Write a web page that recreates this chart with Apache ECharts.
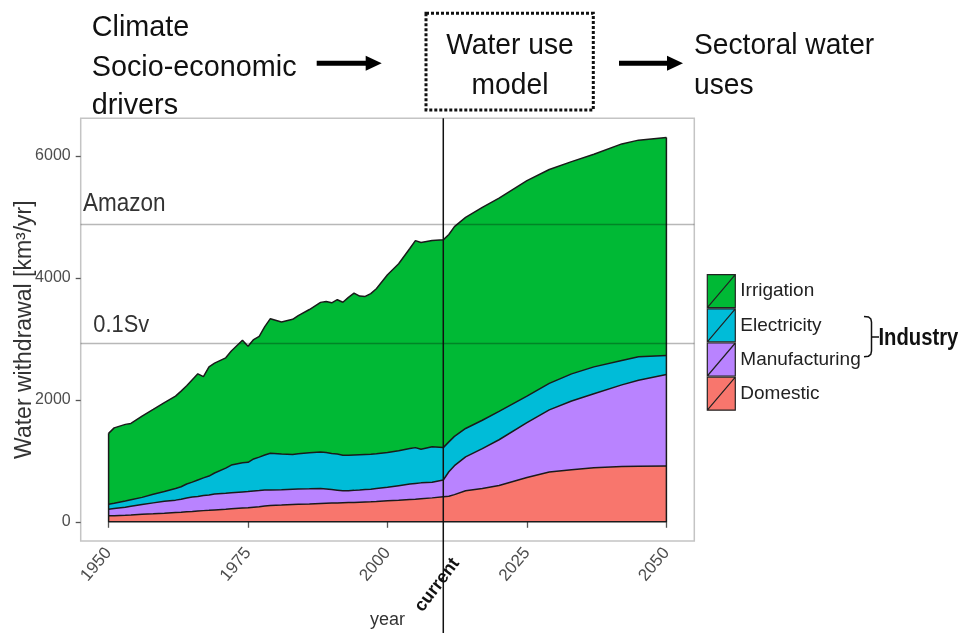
<!DOCTYPE html>
<html><head><meta charset="utf-8">
<script src="https://cdn.jsdelivr.net/npm/echarts@6/dist/echarts.min.js"></script>
<style>html,body{margin:0;padding:0;background:#fff}#c{width:964px;height:633px}</style>
</head><body><div id="c"></div>
<script>
// ---- data (km³/yr) ----
const years = [1950,1951,1953,1954,1956,1958,1960,1962,1963,1964,
  1965,1966,1967,1968,1969,1971,1972,1974,1975,1976,
  1977,1978,1979,1981,1983,1984,1986,1988,1989,1990,
  1991,1992,1993,1994,1995,1996,1997,1998,2000,2002,
  2004,2005,2006,2008,2010,2011,2012,2014,2017,2020,
  2025,2029,2033,2037,2042,2045,2050];
const irrigation = [1161,1235,1257,1253,1333,1392,1457,1515,1567,1610,
  1680,1741,1660,1790,1800,1808,1870,2007,1902,1957,
  1981,2105,2205,2165,2215,2265,2350,2453,2478,2470,
  2531,2508,2590,2655,2600,2590,2633,2705,2914,3065,
  3280,3394,3389,3380,3406,3400,3440,3460,3490,3495,
  3531,3505,3480,3485,3550,3553,3574];
const electricity = [82,87,100,105,115,140,160,190,205,230,
  245,270,290,310,345,412,452,478,480,525,
  548,575,602,585,571,578,590,599,597,592,
  592,584,580,580,578,575,573,570,570,573,
  582,588,551,580,531,490,480,465,465,465,
  436,435,445,440,400,382,311];
const manufacturing = [109,117,132,143,163,180,195,203,212,225,
  235,237,247,252,260,263,265,265,265,265,
  264,262,255,250,249,249,247,245,235,222,
  209,196,195,197,200,204,205,212,222,240,
  253,257,260,258,273,400,475,555,655,750,
  900,1020,1125,1215,1340,1412,1499];
const domestic = [98,101,108,112,122,130,140,152,158,165,
  170,178,183,188,195,205,213,225,230,240,
  248,258,268,275,285,288,293,300,303,306,
  309,312,315,318,322,326,329,333,343,352,
  365,371,378,392,412,420,445,510,545,595,
  725,815,855,885,905,910,916];
const stackOrder = ['Domestic','Manufacturing','Electricity','Irrigation']; // bottom -> top
const legendOrder = ['Irrigation','Electricity','Manufacturing','Domestic'];
const refNames = ['Amazon','0.1Sv'];
const refValues = [4880, 2930];
const currentYear = 2010;
const xTicks = [1950,1975,2000,2025,2050];
const yTicks = [0,2000,4000,6000];
const headerLeft = ['Climate','Socio-economic','drivers'];
const headerMid = ['Water use','model'];
const headerRight = ['Sectoral water','uses'];

// ---- styles ----
const colors = {Domestic:'#F8766D', Manufacturing:'#B983FF', Electricity:'#00BCD8', Irrigation:'#00B935'};
const FONT = 'Liberation Sans, Arial, sans-serif';
const values = {Domestic:domestic, Manufacturing:manufacturing, Electricity:electricity, Irrigation:irrigation};
const n = years.length;

// cumulative tops of each band (stacked area drawn as overlapping areas, top band first)
const cumulative = {};
let run = years.map(()=>0);
stackOrder.forEach(name => { run = run.map((v,i)=>v+values[name][i]); cumulative[name] = run.slice(); });

const series = stackOrder.slice().reverse().map((name,k) => ({
  name, type:'line', symbol:'none', smooth:false, z:2+k*0.01,
  data: years.map((y,i)=>[y, cumulative[name][i]]),
  lineStyle:{color:'#1a1a1a', width:1.5},
  areaStyle:{color:colors[name], opacity:1},
  itemStyle:{color:colors[name]},
  emphasis:{disabled:true}, silent:true
}));
const totalTop = cumulative['Irrigation'];
series.push({
  name:'outline', type:'line', symbol:'none', silent:true,
  data:[[years[0], totalTop[0]],[years[0],0],[years[n-1],0],[years[n-1], totalTop[n-1]]],
  lineStyle:{color:'#1a1a1a', width:1.5}, z:3
});
series.push({
  name:'refs', type:'line', data:[], silent:true, z:4,
  markLine:{symbol:'none', silent:true, label:{show:false},
    lineStyle:{color:'rgba(0,0,0,0.28)', width:1.3, type:'solid'},
    data: refValues.map(v=>({yAxis:v}))}
});

const iconPath = 'path://M0,0L28,0L28,33L0,33ZM0,33L28,0';
const option = {
  animation:false,
  backgroundColor:'#fff',
  grid:{left:80.7, top:118.3, right:269.7, bottom:92, show:true, borderColor:'#c4c4c4', borderWidth:1.5,
        backgroundColor:'#fff', containLabel:false, outerBoundsMode:'none'},
  xAxis:{type:'value', min:1945, max:2055,
    name:'year', nameLocation:'middle', nameGap:70, nameMoveOverlap:false,
    nameTextStyle:{fontFamily:FONT, fontSize:18, color:'#333'},
    axisLine:{show:false}, splitLine:{show:false},
    axisTick:{show:true, customValues:xTicks, length:6, lineStyle:{color:'#555', width:1.3}},
    axisLabel:{customValues:xTicks, rotate:50, fontSize:17, color:'#4d4d4d', fontFamily:FONT, margin:9,
      formatter:v=>String(v)}},
  yAxis:{type:'value', min:-315, max:6615,
    name:'Water withdrawal [km³/yr]', nameLocation:'middle', nameGap:45, nameMoveOverlap:false,
    nameTextStyle:{fontFamily:FONT, fontSize:23, color:'#333'},
    axisLine:{show:false}, splitLine:{show:false},
    axisTick:{show:true, customValues:yTicks, length:5, lineStyle:{color:'#555', width:1.3}},
    axisLabel:{customValues:yTicks, fontSize:16, color:'#4d4d4d', fontFamily:FONT, margin:10,
      formatter:v=>String(v)}},
  legend:{orient:'vertical', left:706.7, top:274, padding:0, itemGap:0, itemWidth:28, itemHeight:33,
    selectedMode:false,
    textStyle:{fontFamily:FONT, fontSize:19, color:'#222'},
    data: legendOrder.map(name=>({name, icon:iconPath,
      itemStyle:{color:colors[name], borderColor:'#222', borderWidth:1.2}}))},
  series
};

const chart = echarts.init(document.getElementById('c'), null, {renderer:'canvas'});
chart.setOption(option);

const px = (x,y) => chart.convertToPixel({gridIndex:0}, [x,y]);
const gridTop = px(1945, 6615)[1];
const gridLeft = px(1945, 0)[0];
const xCur = px(currentYear, 0)[0];

const g = [];
const txt = (text, x, y, size, opts={}) => g.push({type:'text', x, y, scaleX:opts.sx||1, z:100,
  rotation:opts.rot||0,
  style:{text, fontFamily:FONT, fontSize:size, fontWeight:opts.bold?'bold':'normal', fill:opts.color||'#111',
         align:opts.align||'left', verticalAlign:'middle'}});
// header
headerLeft.forEach((t,i)=>txt(t, 91.7, [28,67.4,105.7][i], 30, {sx:0.96}));
headerMid.forEach((t,i)=>txt(t, 510, [45.7,85.7][i], 30, {sx:0.94, align:'center'}));
headerRight.forEach((t,i)=>txt(t, 694, [45.7,85.7][i], 30, {sx:0.94}));
g.push({type:'rect', shape:{x:426, y:13.3, width:167.3, height:96.7}, z:100,
  style:{fill:'none', stroke:'#111', lineWidth:3, lineDash:[3,2]}});
[[316.7,381.7],[619,683]].forEach(([a,b])=>{
  g.push({type:'line', shape:{x1:a, y1:63.3, x2:b-14, y2:63.3}, z:100, style:{stroke:'#000', lineWidth:5}});
  g.push({type:'polygon', shape:{points:[[b-16,55.8],[b,63.3],[b-16,70.8]]}, z:100, style:{fill:'#000'}});
});
// reference labels
refNames.forEach((t,i)=>{
  const y = px(1945, refValues[i])[1];
  if (i===0) txt(t, gridLeft+2.3, y-20, 25, {sx:0.9, color:'#333'});
  else txt(t, gridLeft+12.6, y-17, 23, {sx:0.95, color:'#333'});
});
// current line + label
g.push({type:'line', shape:{x1:xCur, y1:gridTop, x2:xCur, y2:633}, z:100, style:{stroke:'#111', lineWidth:1.5}});
txt('current', xCur-6, 585, 18, {bold:true, align:'center', rot:53*Math.PI/180, color:'#111'});
// industry bracket
g.push({type:'polyline', z:100, shape:{points:[[864,316.5],[868.5,317],[870.8,318.8],[871.5,322],[871.5,351],[870.8,354.4],[868.5,356.2],[864,356.7]]},
  style:{fill:'none', stroke:'#111', lineWidth:1.5}});
g.push({type:'line', z:100, shape:{x1:871.5, y1:337, x2:879, y2:337}, style:{stroke:'#111', lineWidth:1.5}});
txt('Industry', 878.5, 339, 23, {bold:true, sx:0.88});

chart.setOption({graphic: g});
</script></body></html>
